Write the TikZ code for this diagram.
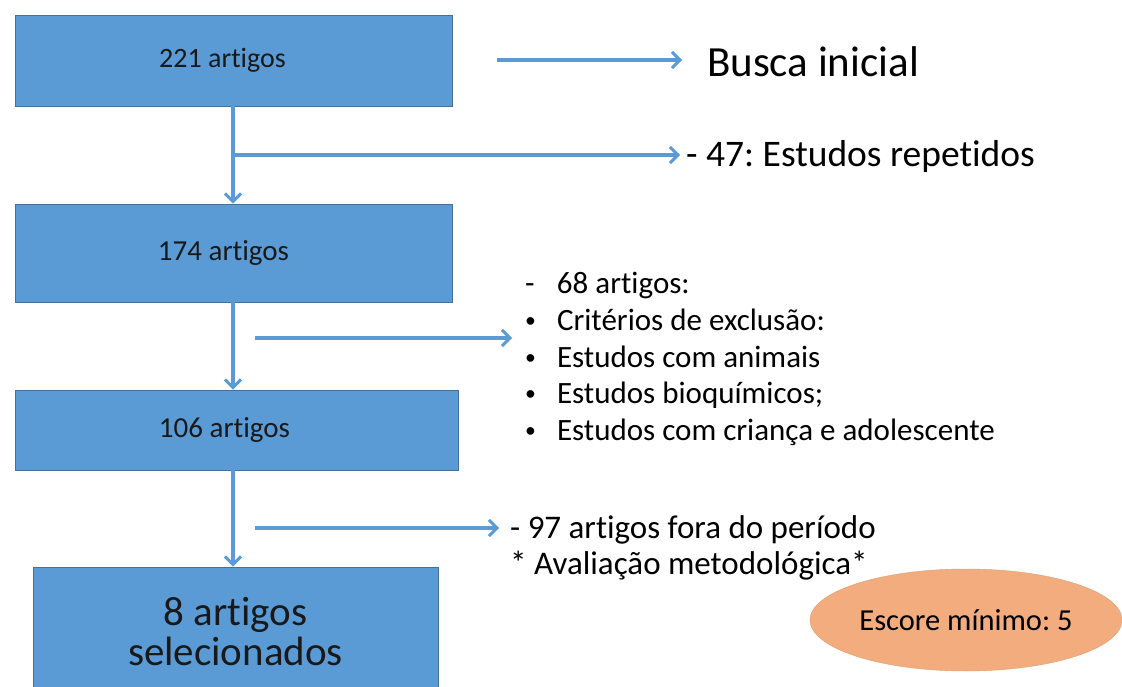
\documentclass[tikz,border=0pt]{standalone}
\usepackage{fontspec}
\setmainfont{Carlito}[RawFeature={-liga}]
\usetikzlibrary{shapes.geometric, arrows.meta}

\definecolor{boxblue}{RGB}{91,155,213}
\definecolor{boxedge}{RGB}{65,113,156}
\definecolor{peach}{RGB}{242,172,126}
\newcommand{\smallbul}{\raisebox{3pt}{\scalebox{0.7}{\textbullet}}}
\frenchspacing

\begin{document}
\begin{tikzpicture}[x=1pt, y=-1pt,
    stage/.style={rectangle, draw=boxedge, line width=0.8pt, fill=boxblue,
        align=center, text=black!90, inner sep=0pt},
    flow/.style={boxblue, line width=3.2pt,
        -{Straight Barb[length=8pt, width=16pt, line width=3pt]}},
    side/.style={anchor=base west, inner sep=0pt, text=black}]

    \clip (0,0) rectangle (1122,687);

    % Stages
    \node[stage, minimum width=437pt, minimum height=91pt, font=\fontsize{28}{32}\selectfont]
        (busca1) at (233.5,60.5) {221 artigos\hspace*{22pt}};
    \node[stage, minimum width=437pt, minimum height=98pt, font=\fontsize{29}{32}\selectfont]
        (rep2) at (233.5,253) {174 artigos\hspace*{20pt}};
    \node[stage, minimum width=443pt, minimum height=80pt, font=\fontsize{29}{32}\selectfont]
        (excl3) at (236.5,430) {106 artigos\hspace*{24pt}};
    \node[stage, minimum width=405pt, minimum height=140pt, font=\fontsize{41}{42}\selectfont]
        (final4) at (235.5,637) {\raisebox{12pt}{8 artigos}\\[-2pt]\raisebox{12pt}{selecionados}};

    % Side notes
    \node[side, font=\fontsize{43}{46}\selectfont] (inicial) at (707,77) {Busca inicial};
    \node[side, font=\fontsize{37.5}{40}\selectfont] (repet) at (686,167) {- 47: Estudos repetidos};
    \node[side, font=\fontsize{31}{36.6}\selectfont] (criter) at (525,294)
        {\begin{tabular}[t]{@{}l@{\hspace{21pt}}l@{}}
            - & 68 artigos:\\
            \smallbul & Critérios de exclusão:\\
            \smallbul & Estudos com animais\\
            \smallbul & Estudos bioquímicos;\\
            \smallbul & Estudos com criança e adolescente
        \end{tabular}};
    \node[side, font=\fontsize{33}{36}\selectfont] (periodo) at (510,538)
        {\begin{tabular}[t]{@{}l@{}}
            - 97 artigos fora do período\\
            {*} Avaliação metodológica*
        \end{tabular}};

    % Score
    \node[ellipse, fill=peach, draw=peach!92!black, line width=0.4pt,
        minimum width=312pt, minimum height=102pt, inner sep=0pt,
        font=\fontsize{30.5}{32}\selectfont] (escore) at (966,620) {Escore mínimo: 5};

    % Branch points
    \coordinate (s0) at (497,60);
    \coordinate (t0) at (682,60);
    \coordinate (j1) at (233,155);
    \coordinate (t1) at (680,155);
    \coordinate (s2) at (255,338);
    \coordinate (t2) at (512,338);
    \coordinate (s3) at (255,528);
    \coordinate (t3) at (499,528);

    % Main flow
    \draw[flow] (busca1.south -| j1) -- (rep2.north -| j1);
    \draw[flow] (rep2.south -| j1) -- (excl3.north -| j1);
    \draw[flow] (excl3.south -| j1) -- (final4.north -| j1);

    % Exclusions
    \draw[flow] (s0) -- (t0);
    \draw[flow] (j1) -- (t1);
    \draw[flow] (s2) -- (t2);
    \draw[flow] (s3) -- (t3);

\end{tikzpicture}
\end{document}
